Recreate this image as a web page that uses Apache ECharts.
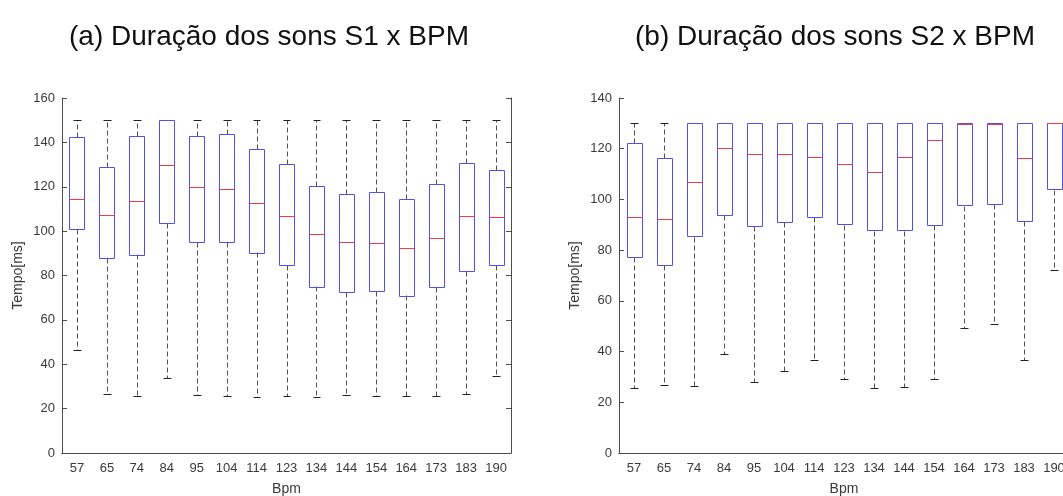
<!DOCTYPE html>
<html>
<head>
<meta charset="utf-8">
<script src="https://cdn.jsdelivr.net/npm/echarts@6/dist/echarts.min.js"></script>
<style>
  html, body { margin: 0; padding: 0; background: #fff; }
  #chart { width: 1063px; height: 496px; }
</style>
</head>
<body>
<div id="chart"></div>
<script>
// Heart-rate categories (beats per minute)
const bpm = ['57', '65', '74', '84', '95', '104', '114', '123', '134', '144', '154', '164', '173', '183', '190'];

// S1 sound durations (ms): lower whisker, quartiles, median, upper whisker
const s1Min = [46.5, 26.7, 25.8, 33.6, 26.3, 25.8, 25.4, 25.7, 25.4, 26.1, 25.6, 25.7, 25.7, 26.6, 34.8];
const s1Q1  = [100.8, 87.7, 89.5, 103.6, 95.1, 95.1, 90.4, 84.7, 75.1, 72.7, 73.1, 71.2, 74.9, 82.0, 84.7];
const s1Med = [114.5, 107.4, 113.8, 129.6, 119.7, 118.8, 112.8, 106.9, 98.5, 95.2, 94.8, 92.4, 97.0, 106.8, 106.5];
const s1Q3  = [142.4, 128.7, 143.0, 150, 142.9, 143.7, 137.1, 130.2, 120.5, 116.7, 117.6, 114.7, 121.2, 130.8, 127.4];
const s1Max = [150, 150, 150, 150, 150, 150, 150, 150, 150, 150, 150, 150, 150, 150, 150];

// S2 sound durations (ms)
const s2Min = [25.7, 26.7, 26.3, 38.9, 27.9, 32.5, 36.8, 29.3, 25.5, 25.9, 29.2, 49.1, 50.7, 36.8, 72.3];
const s2Q1  = [77.1, 74.3, 85.3, 93.7, 89.4, 91.1, 93.1, 90.0, 87.7, 87.7, 89.8, 97.6, 98.2, 91.3, 103.8];
const s2Med = [92.9, 92.3, 106.9, 120.3, 117.9, 117.9, 116.8, 114.1, 110.8, 116.8, 123.4, 129.8, 129.7, 116.3, 130];
const s2Q3  = [122.1, 116.4, 130, 130, 130, 130, 130, 130, 130, 130, 130, 130, 130, 130, 130];
const s2Max = [130, 130, 130, 130, 130, 130, 130, 130, 130, 130, 130, 130, 130, 130, 130];

// Axis tick settings
const yTicks1 = { min: 0, max: 160, interval: 20 };
const yTicks2 = { min: 0, max: 140, interval: 20 };

const FONT = '"Liberation Sans", Arial, Helvetica, sans-serif';
const AXIS_COLOR = '#4d4d4d';
const LABEL_COLOR = '#3a3a3a';
const BOX_COLOR = '#5050f0';
const MEDIAN_COLOR = '#f03c46';
const WHISKER_COLOR = '#505050';
const CAP_COLOR = '#222';

function boxRows(mins, q1s, meds, q3s, maxs) {
  return bpm.map((_, i) => [i, mins[i], q1s[i], meds[i], q3s[i], maxs[i]]);
}

// Draws one box-and-whisker glyph per category through the axis scales
function renderBox(params, api) {
  const i = api.value(0);
  const band = api.size([1, 0])[0];
  const halfBox = band * 0.25;
  const halfCap = band * 0.13;
  const cx = api.coord([i, 0])[0];
  const yMin = api.coord([i, api.value(1)])[1];
  const yQ1 = api.coord([i, api.value(2)])[1];
  const yMed = api.coord([i, api.value(3)])[1];
  const yQ3 = api.coord([i, api.value(4)])[1];
  const yMax = api.coord([i, api.value(5)])[1];
  const px = v => Math.round(v) + 0.5;
  const x = px(cx);
  const bx = px(cx - halfBox);
  const bw = Math.round(halfBox * 2);
  const dashed = { stroke: WHISKER_COLOR, lineWidth: 1, lineDash: [5, 3], fill: null };
  const cap = { stroke: CAP_COLOR, lineWidth: 1, fill: null };
  return {
    type: 'group',
    children: [
      { type: 'line', shape: { x1: x, y1: px(yQ3), x2: x, y2: px(yMax) }, style: dashed },
      { type: 'line', shape: { x1: x, y1: px(yQ1), x2: x, y2: px(yMin) }, style: dashed },
      { type: 'line', shape: { x1: px(cx - halfCap), y1: px(yMax), x2: px(cx + halfCap), y2: px(yMax) }, style: cap },
      { type: 'line', shape: { x1: px(cx - halfCap), y1: px(yMin), x2: px(cx + halfCap), y2: px(yMin) }, style: cap },
      { type: 'rect', shape: { x: bx, y: px(yQ3), width: bw, height: Math.round(yQ1 - yQ3) },
        style: { fill: null, stroke: BOX_COLOR, lineWidth: 1 } },
      { type: 'line', shape: { x1: bx, y1: px(yMed), x2: bx + bw, y2: px(yMed) },
        style: { stroke: MEDIAN_COLOR, lineWidth: 1, fill: null } }
    ]
  };
}

function bottomAxis(gridIndex) {
  return {
    type: 'category', gridIndex, data: bpm, position: 'bottom',
    axisLine: { lineStyle: { color: AXIS_COLOR, width: 1 } },
    axisTick: { inside: true, length: 5, alignWithLabel: true, lineStyle: { color: AXIS_COLOR } },
    axisLabel: { color: LABEL_COLOR, fontSize: 13, fontFamily: FONT, margin: 9, interval: 0 },
    name: 'Bpm', nameLocation: 'middle', nameGap: 29,
    nameTextStyle: { color: LABEL_COLOR, fontSize: 14, fontFamily: FONT }
  };
}
function topAxis(gridIndex) {
  return {
    type: 'category', gridIndex, data: bpm, position: 'top',
    axisLine: { lineStyle: { color: AXIS_COLOR, width: 1 } },
    axisTick: { inside: true, length: 5, alignWithLabel: true, lineStyle: { color: AXIS_COLOR } },
    axisLabel: { show: false }
  };
}
function leftAxis(gridIndex, ticks) {
  return {
    type: 'value', gridIndex, position: 'left', ...ticks,
    axisLine: { show: true, lineStyle: { color: AXIS_COLOR, width: 1 } },
    axisTick: { show: true, inside: true, length: 5, lineStyle: { color: AXIS_COLOR } },
    splitLine: { show: false },
    axisLabel: { color: LABEL_COLOR, fontSize: 13, fontFamily: FONT, margin: 7 },
    name: 'Tempo[ms]', nameLocation: 'middle', nameGap: 37,
    nameTextStyle: { color: LABEL_COLOR, fontSize: 14, fontFamily: FONT }
  };
}
function rightAxis(gridIndex, ticks) {
  return {
    type: 'value', gridIndex, position: 'right', ...ticks,
    axisLine: { show: true, lineStyle: { color: AXIS_COLOR, width: 1 } },
    axisTick: { show: true, inside: true, length: 5, lineStyle: { color: AXIS_COLOR } },
    splitLine: { show: false },
    axisLabel: { show: false }
  };
}

const chart = echarts.init(document.getElementById('chart'), null, { renderer: 'canvas' });
chart.setOption({
  animation: false,
  backgroundColor: '#ffffff',
  textStyle: { fontFamily: FONT },
  grid: [
    { left: 62, top: 98, width: 449, height: 355, containLabel: false, outerBoundsMode: 'none' },
    { left: 619, top: 98, width: 450, height: 355, containLabel: false, outerBoundsMode: 'none' }
  ],
  xAxis: [bottomAxis(0), topAxis(0), bottomAxis(1), topAxis(1)],
  yAxis: [leftAxis(0, yTicks1), rightAxis(0, yTicks1), leftAxis(1, yTicks2), rightAxis(1, yTicks2)],
  graphic: [
    { type: 'text', x: 269, y: 37,
      style: { text: '(a) Duração dos sons S1 x BPM', font: '28px ' + FONT, fill: '#111',
               align: 'center', verticalAlign: 'middle', textAlign: 'center', textVerticalAlign: 'middle' } },
    { type: 'text', x: 835, y: 37,
      style: { text: '(b) Duração dos sons S2 x BPM', font: '28px ' + FONT, fill: '#111',
               align: 'center', verticalAlign: 'middle', textAlign: 'center', textVerticalAlign: 'middle' } }
  ],
  series: [
    { type: 'custom', name: 'S1', xAxisIndex: 0, yAxisIndex: 0, renderItem: renderBox,
      encode: { x: 0, y: [1, 2, 3, 4, 5] }, clip: false,
      data: boxRows(s1Min, s1Q1, s1Med, s1Q3, s1Max) },
    { type: 'custom', name: 'S2', xAxisIndex: 2, yAxisIndex: 2, renderItem: renderBox,
      encode: { x: 0, y: [1, 2, 3, 4, 5] }, clip: false,
      data: boxRows(s2Min, s2Q1, s2Med, s2Q3, s2Max) }
  ]
});
</script>
</body>
</html>
